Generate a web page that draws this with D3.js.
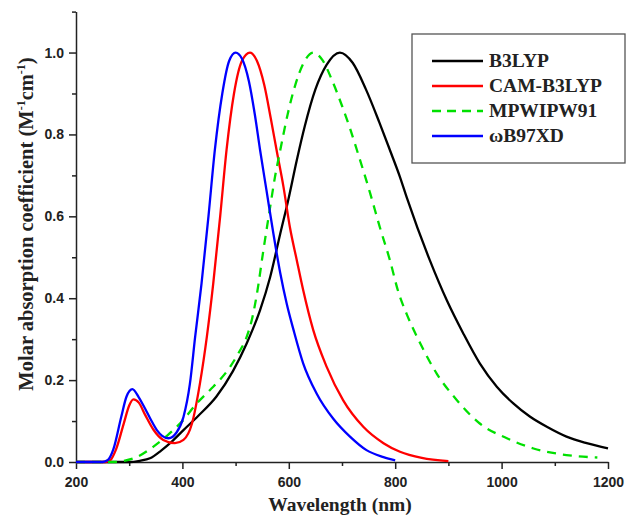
<!DOCTYPE html>
<html>
<head>
<meta charset="utf-8">
<script src="https://cdn.jsdelivr.net/npm/d3@7"></script>
<style>
  body { margin: 0; background: #fff; }
  svg { display: block; }
  .tick text { font-family: "Liberation Sans", Arial, sans-serif; font-weight: bold; font-size: 14px; fill: #222; }
  .title { font-family: "Liberation Serif", "Times New Roman", serif; font-weight: bold; fill: #222; }
</style>
</head>
<body>
<div id="chart"></div>
<script>
// wavelength (nm) / normalised absorption
const seriesNames = ["B3LYP", "CAM-B3LYP", "MPWIPW91", "ωB97XD"];
const seriesColors = ["#000000", "#ff0000", "#00e000", "#0000ff"];

const b3lypNm  = [200, 300, 320, 339, 360, 380, 402, 430, 464, 495, 521, 546, 565, 584, 599, 615, 630, 650, 671, 696, 720, 745, 770, 790, 809, 822, 865, 897, 928, 959, 991, 1022, 1053, 1085, 1122, 1160, 1200];
const b3lypVal = [0, 0, 0.003, 0.009, 0.028, 0.05, 0.078, 0.113, 0.16, 0.222, 0.29, 0.371, 0.452, 0.558, 0.64, 0.737, 0.82, 0.91, 0.97, 1.0, 0.975, 0.91, 0.83, 0.762, 0.696, 0.645, 0.493, 0.395, 0.314, 0.241, 0.184, 0.143, 0.111, 0.086, 0.062, 0.046, 0.033];

const camNm  = [200, 255, 265, 275, 290, 300, 308, 318, 330, 345, 364, 386, 402, 418, 433, 446, 458, 471, 483, 497, 512, 527, 540, 554, 566, 577, 590, 602, 615, 627, 646, 671, 702, 740, 778, 809, 850, 900];
const camVal = [0, 0, 0.005, 0.03, 0.095, 0.138, 0.153, 0.145, 0.115, 0.08, 0.054, 0.046, 0.054, 0.094, 0.192, 0.306, 0.436, 0.6, 0.762, 0.9, 0.98, 1.0, 0.98, 0.92, 0.84, 0.762, 0.672, 0.574, 0.493, 0.42, 0.322, 0.233, 0.151, 0.086, 0.046, 0.025, 0.01, 0.002];

const mpwNm  = [200, 270, 290, 314, 345, 372, 402, 425, 452, 470, 490, 505, 521, 531, 540, 552, 565, 574, 584, 598, 612, 628, 646, 664, 682, 700, 715, 728, 753, 771, 790, 806, 822, 847, 878, 916, 959, 1010, 1060, 1122, 1180];
const mpwVal = [0, 0, 0.003, 0.012, 0.037, 0.065, 0.103, 0.14, 0.176, 0.2, 0.233, 0.265, 0.306, 0.35, 0.41, 0.515, 0.623, 0.696, 0.762, 0.85, 0.92, 0.975, 1.0, 0.98, 0.93, 0.87, 0.815, 0.762, 0.656, 0.574, 0.493, 0.415, 0.36, 0.29, 0.216, 0.151, 0.094, 0.058, 0.033, 0.017, 0.011];

const wbNm  = [200, 250, 260, 270, 285, 295, 306, 318, 330, 340, 352, 362, 374, 389, 402, 414, 424, 436, 449, 461, 475, 488, 500, 512, 525, 536, 546, 558, 571, 584, 596, 609, 627, 652, 684, 715, 746, 778, 800];
const wbVal = [0, 0, 0.005, 0.03, 0.11, 0.16, 0.178, 0.158, 0.13, 0.105, 0.078, 0.064, 0.058, 0.072, 0.11, 0.19, 0.306, 0.436, 0.6, 0.762, 0.9, 0.98, 1.0, 0.985, 0.93, 0.85, 0.762, 0.664, 0.558, 0.461, 0.387, 0.322, 0.241, 0.168, 0.105, 0.062, 0.029, 0.012, 0.004];

const xMajor = [200, 400, 600, 800, 1000, 1200];
const xMinor = [300, 500, 700, 900, 1100];
const yMajor = [0, 0.2, 0.4, 0.6, 0.8, 1.0];
const yMinor = [0.1, 0.3, 0.5, 0.7, 0.9, 1.1];

const width = 627, height = 515;
const svg = d3.select("#chart").append("svg").attr("width", width).attr("height", height);

const x = d3.scaleLinear().domain([200, 1200]).range([76, 608]);
const y = d3.scaleLinear().domain([0, 1.1]).range([462, 11.6]);

// axes
svg.append("g").attr("transform", `translate(0,${y(0)})`)
    .call(d3.axisBottom(x).tickValues(xMajor).tickSize(7).tickSizeOuter(0).tickPadding(8).tickFormat(d3.format("d")));
svg.append("g").attr("transform", `translate(0,${y(0)})`)
    .call(d3.axisBottom(x).tickValues(xMinor).tickSize(4).tickFormat(""))
    .select(".domain").remove();
svg.append("g").attr("transform", `translate(${x(200)},0)`)
    .call(d3.axisLeft(y).tickValues(yMajor).tickSize(7).tickSizeOuter(0).tickPadding(5).tickFormat(d3.format(".1f")));
svg.append("g").attr("transform", `translate(${x(200)},0)`)
    .call(d3.axisLeft(y).tickValues(yMinor).tickSize(4).tickFormat(""))
    .select(".domain").remove();
svg.selectAll(".domain, .tick line").attr("stroke", "#222").attr("stroke-width", 1.5);

// curves
const series = [
    { nm: b3lypNm, val: b3lypVal },
    { nm: camNm, val: camVal },
    { nm: mpwNm, val: mpwVal },
    { nm: wbNm, val: wbVal }
];
const line = d3.line().x(d => x(d[0])).y(d => y(d[1])).curve(d3.curveMonotoneX);
series.forEach((s, i) => {
    svg.append("path")
        .datum(s.nm.map((n, j) => [n, s.val[j]]))
        .attr("fill", "none")
        .attr("stroke", seriesColors[i])
        .attr("stroke-width", 2.3)
        .attr("stroke-dasharray", i === 2 ? "9,7" : null)
        .attr("d", line);
});

// axis titles
svg.append("text").attr("class", "title")
    .attr("x", 340).attr("y", 511).attr("text-anchor", "middle")
    .attr("font-size", 19.5)
    .text("Wavelength (nm)");
const yt = svg.append("text").attr("class", "title")
    .attr("transform", "translate(33,224) rotate(-90)")
    .attr("text-anchor", "middle")
    .attr("font-size", 20.5);
yt.append("tspan").text("Molar absorption coefficient (M");
yt.append("tspan").attr("font-size", 12).attr("dy", -8).text("-1");
yt.append("tspan").attr("dy", 8).text("cm");
yt.append("tspan").attr("font-size", 12).attr("dy", -8).text("-1");
yt.append("tspan").attr("dy", 8).text(")");

// legend
const legend = svg.append("g");
legend.append("rect").attr("x", 412).attr("y", 34).attr("width", 213).attr("height", 129)
    .attr("fill", "#fff").attr("stroke", "#555").attr("stroke-width", 1.3);
seriesNames.forEach((name, i) => {
    const ly = 61 + i * 25;
    legend.append("line").attr("x1", 432).attr("x2", 483).attr("y1", ly).attr("y2", ly)
        .attr("stroke", seriesColors[i]).attr("stroke-width", 2.3)
        .attr("stroke-dasharray", i === 2 ? "9,6" : null);
    legend.append("text").attr("class", "title")
        .attr("x", 489).attr("y", ly + 6).attr("font-size", 19.5)
        .text(name);
});
</script>
</body>
</html>
